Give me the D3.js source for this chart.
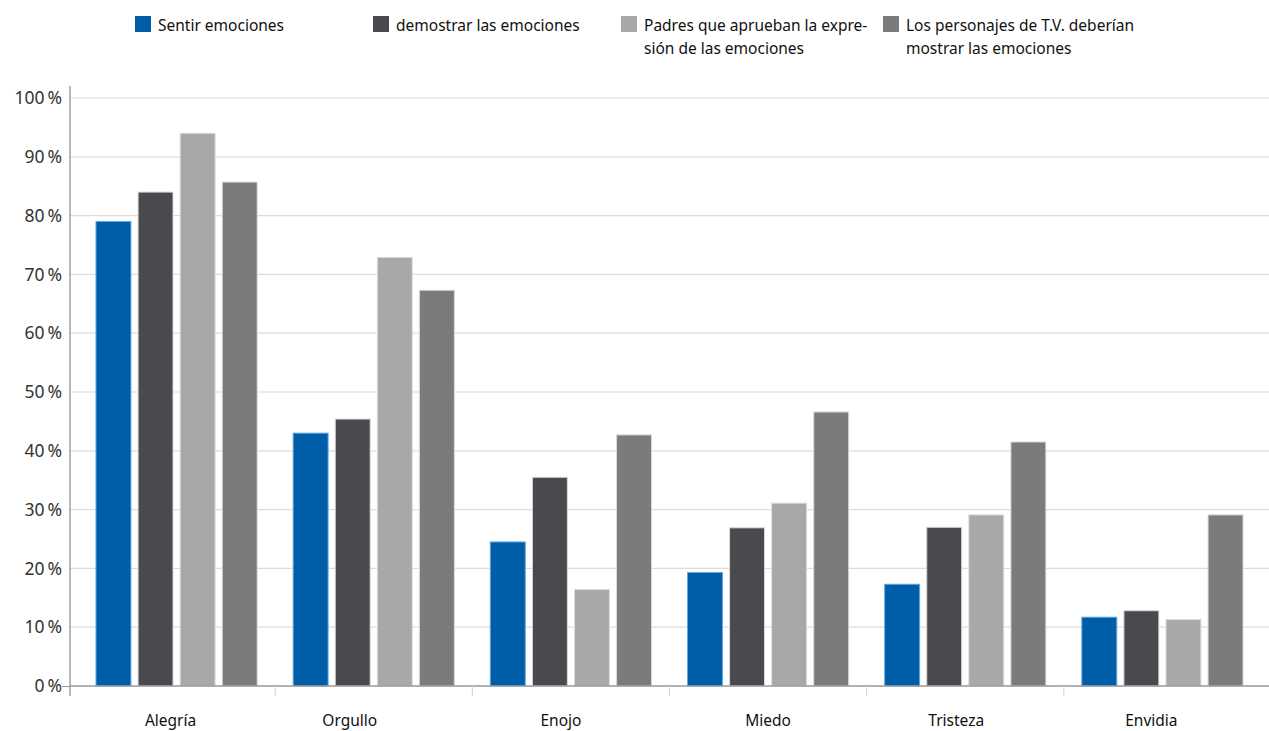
<!DOCTYPE html>
<html>
<head>
<meta charset="utf-8">
<script src="https://cdn.jsdelivr.net/npm/d3@7/dist/d3.min.js"></script>
<style>
  html, body { margin: 0; padding: 0; background: #fff; }
  svg { display: block; font-family: "Noto Sans", "Open Sans", sans-serif; }
</style>
</head>
<body>
<svg id="chart" width="1269" height="731"></svg>
<script>
// Emotions surveyed
const categories = ["Alegría", "Orgullo", "Enojo", "Miedo", "Tristeza", "Envidia"];

// Series names (legend lines)
const seriesNames = [
  ["Sentir emociones"],
  ["demostrar las emociones"],
  ["Padres que aprueban la expre-", "sión de las emociones"],
  ["Los personajes de T.V. deberían", "mostrar las emociones"]
];

// Percentages per series, one value per emotion
const sentir     = [79.0, 43.0, 24.5, 19.3, 17.3, 11.7];
const demostrar  = [84.0, 45.4, 35.5, 26.9, 27.0, 12.8];
const padres     = [94.0, 72.9, 16.4, 31.1, 29.1, 11.3];
const personajes = [85.7, 67.3, 42.7, 46.6, 41.5, 29.1];

// Y tick values
const yTicks = [0, 10, 20, 30, 40, 50, 60, 70, 80, 90, 100];

const seriesValues = [sentir, demostrar, padres, personajes];
const colors = ["#005ea8", "#4a494e", "#a7a8aa", "#7b7b7d"];
const strokes = ["#5aa8e6", "#d8d8d8", "#dcdcdc", "#d8d8d8"];

// Horizontal nudge of each category label from its band centre (px)
const labelNudge = [-6, -24, -10, 0, -9, -11];

const svg = d3.select("#chart");
const plotLeft = 70, plotRight = 1269, plotTop = 98, plotBottom = 686;

const y = d3.scaleLinear().domain([0, 100]).range([plotBottom, plotTop]);
const x0 = d3.scaleBand().domain(categories).range([78, 1261]).paddingInner(0).paddingOuter(0);
const x1 = d3.scaleBand().domain(d3.range(4)).range([18, x0.bandwidth() - 18]).paddingInner(0.17).paddingOuter(0);

// Gridlines
svg.append("g")
  .selectAll("line")
  .data(yTicks.filter(d => d > 0))
  .join("line")
  .attr("x1", plotLeft).attr("x2", plotRight)
  .attr("y1", d => y(d)).attr("y2", d => y(d))
  .attr("stroke", "#dcdcdc").attr("stroke-width", 1.2);

// Y axis labels
const yAxis = d3.axisLeft(y).tickValues(yTicks).tickSize(8).tickFormat(d => d + "\u2009%");
const gy = svg.append("g").attr("transform", `translate(${plotLeft},0)`).call(yAxis);
gy.select(".domain").remove();
gy.selectAll(".tick line").attr("stroke", d => d === 0 ? "#999" : "none");
gy.selectAll(".tick text")
  .attr("x", -8)
  .attr("font-size", 17.5)
  .attr("font-family", "'Noto Sans', sans-serif")
  .attr("fill", "#333");

// Bars
const groups = svg.append("g")
  .selectAll("g")
  .data(categories)
  .join("g")
  .attr("transform", d => `translate(${x0(d)},0)`);

groups.selectAll("rect")
  .data((c, i) => seriesValues.map((s, k) => ({ k, v: s[i] })))
  .join("rect")
  .attr("x", d => x1(d.k))
  .attr("width", x1.bandwidth())
  .attr("y", d => y(d.v))
  .attr("height", d => y(0) - y(d.v))
  .attr("fill", d => colors[d.k])
  .attr("stroke", d => strokes[d.k])
  .attr("stroke-width", 1);

// Left axis line and baseline
svg.append("line")
  .attr("x1", plotLeft).attr("x2", plotLeft)
  .attr("y1", plotTop - 12).attr("y2", plotBottom + 10)
  .attr("stroke", "#a0a0a0").attr("stroke-width", 1.5);
svg.append("line")
  .attr("x1", plotLeft).attr("x2", plotRight)
  .attr("y1", plotBottom).attr("y2", plotBottom)
  .attr("stroke", "#999").attr("stroke-width", 1.5);

// Category separators on the baseline
svg.append("g")
  .selectAll("line")
  .data(categories.slice(1))
  .join("line")
  .attr("x1", d => x0(d)).attr("x2", d => x0(d))
  .attr("y1", plotBottom).attr("y2", plotBottom + 10)
  .attr("stroke", "#cfcfcf").attr("stroke-width", 1);

// Category labels
svg.append("g")
  .selectAll("text")
  .data(categories)
  .join("text")
  .attr("x", (d, i) => x0(d) + x0.bandwidth() / 2 + labelNudge[i])
  .attr("y", 726)
  .attr("text-anchor", "middle")
  .attr("font-size", 15.5)
  .attr("fill", "#111")
  .text(d => d);

// Legend
const legendX = [135, 373, 621, 883];
const legend = svg.append("g")
  .selectAll("g")
  .data(seriesNames)
  .join("g")
  .attr("transform", (d, i) => `translate(${legendX[i]},16)`);
legend.append("rect")
  .attr("width", 16).attr("height", 16)
  .attr("fill", (d, i) => colors[i]);
legend.append("text")
  .attr("x", 23)
  .attr("font-size", 15.5)
  .attr("fill", "#111")
  .selectAll("tspan")
  .data(d => d)
  .join("tspan")
  .attr("x", 23)
  .attr("y", (d, i) => 15 + i * 23)
  .text(d => d);
</script>
</body>
</html>
